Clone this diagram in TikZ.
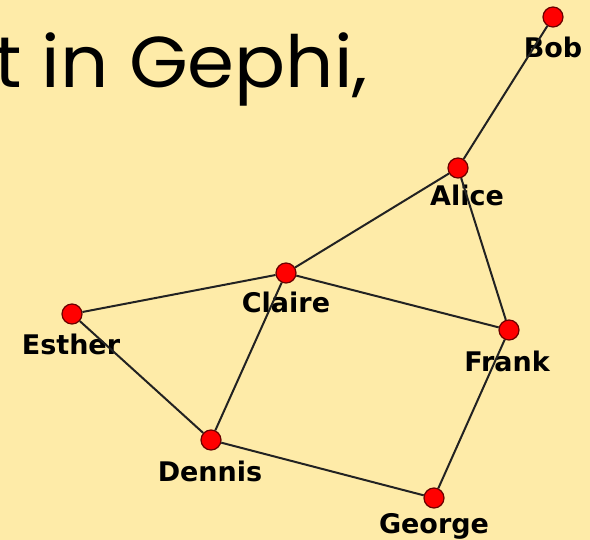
\documentclass[tikz,border=0pt]{standalone}
\usepackage{fontspec}
\newfontfamily\titlefont{Poppins}
\newfontfamily\labelfont{DejaVu Sans}
\definecolor{bgyellow}{HTML}{FEEBA8}
\definecolor{vtxred}{HTML}{FF0000}
\definecolor{vtxrim}{HTML}{6A0000}
\definecolor{edgegray}{HTML}{222222}

\begin{document}
\begin{tikzpicture}[x=1pt,y=-1pt,
  vertex/.style={circle,fill=vtxred,draw=vtxrim,line width=1.2pt,
    minimum size=20pt,inner sep=0pt},
  lbl/.style={anchor=base,inner sep=0pt,
    font=\labelfont\bfseries\fontsize{27}{27}\selectfont},
  link/.style={draw=edgegray,line width=2pt}]

% background
\fill[bgyellow] (0,0) rectangle (590,540);
\clip (0,0) rectangle (590,540);

% title
\node[anchor=base east,inner sep=0pt,xscale=1.05,
  font=\titlefont\fontsize{72}{72}\selectfont] (title) at (368,88) {t in Gephi,};

% labels
\node[lbl] (boblbl) at (553,58) {Bob};
\node[lbl] (alicelbl) at (467,206) {Alice};
\node[lbl] (clairelbl) at (286,313) {Claire};
\node[lbl] (estherlbl) at (71,355) {Esther};
\node[lbl] (franklbl) at (507,372) {Frank};
\node[lbl] (dennislbl) at (210,482) {Dennis};
\node[lbl] (georgelbl) at (434,533) {George};

% vertices
\node[vertex] (bob) at (553,17) {};
\node[vertex] (alice) at (458,168) {};
\node[vertex] (claire) at (286,273) {};
\node[vertex] (esther) at (72,314) {};
\node[vertex] (frank) at (509,330) {};
\node[vertex] (dennis) at (211,440) {};
\node[vertex] (george) at (434,498) {};

% edges
\draw[link] (bob) -- (alice);
\draw[link] (alice) -- (claire);
\draw[link] (alice) -- (frank);
\draw[link] (claire) -- (esther);
\draw[link] (claire) -- (frank);
\draw[link] (claire) -- (dennis);
\draw[link] (esther) -- (dennis);
\draw[link] (dennis) -- (george);
\draw[link] (george) -- (frank);

\end{tikzpicture}
\end{document}
